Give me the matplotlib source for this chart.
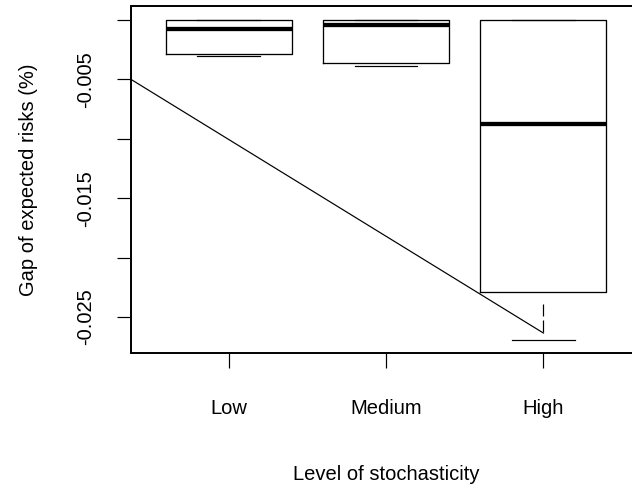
import matplotlib.pyplot as plt
from matplotlib.patches import Rectangle

plt.rcParams['font.family'] = ['Liberation Sans', 'DejaVu Sans']
plt.rcParams['lines.scale_dashes'] = False

# summary stats per stochasticity level
levels = ['Low', 'Medium', 'High']
medians = [-0.00076, -0.00045, -0.00875]
q1 = [-0.00286, -0.0036, -0.0229]
q3 = [0.0, 0.0, 0.0]
whisk_lo = [-0.0030, -0.00387, -0.02694]
whisk_hi = [0.0, 0.0, 0.0]

# straight reference line across the panel
trend_x = [0, 3]
trend_y = [-0.0019, -0.02635]

yticks = [0.0, -0.005, -0.010, -0.015, -0.020, -0.025]
ytick_labels = ['', '-0.005', '', '-0.015', '', '-0.025']

px = 0.72  # one pixel in points at dpi 100

fig = plt.figure(figsize=(6.32, 4.87), dpi=100)
ax = fig.add_axes([131 / 632, 134 / 487, 510 / 632, 347 / 487])

stats = []
for i, lab in enumerate(levels):
    stats.append(dict(label=lab, med=medians[i], q1=q1[i], q3=q3[i],
                      whislo=whisk_lo[i], whishi=whisk_hi[i], fliers=[]))

ax.bxp(stats, positions=[1, 2, 3], widths=0.8, capwidths=0.4,
       showfliers=False, patch_artist=False,
       boxprops=dict(color='black', linewidth=1.3 * px),
       medianprops=dict(color='black', linewidth=4.3 * px, solid_capstyle='butt'),
       whiskerprops=dict(color='black', linewidth=1.2 * px,
                         linestyle=(35.4 * px, (12 * px, 4 * px, 12 * px, 19.4 * px)),
                         dash_capstyle='butt'),
       capprops=dict(color='black', linewidth=1.2 * px))

ax.plot(trend_x, trend_y, color='black', linewidth=1.2 * px)

ax.set_xlim(0.38, 3.62)
ax.set_ylim(-0.02803, 0.00118)

ax.set_xticks([1, 2, 3])
ax.set_xticklabels(levels)
ax.set_yticks(yticks)
ax.set_yticklabels(ytick_labels, rotation=90, va='center')

ax.tick_params(axis='both', direction='out', length=14.5 * px, width=1.2 * px,
               labelsize=14.5, color='black')
ax.tick_params(axis='x', pad=31 * px)
ax.tick_params(axis='y', pad=21 * px)

for sp in ax.spines.values():
    sp.set_linewidth(1.7 * px)
    sp.set_color('black')

# full box around the plot region, like box() in base graphics
ax.add_patch(Rectangle((0, 0), 1, 1, transform=ax.transAxes, fill=False,
                       edgecolor='black', linewidth=1.7 * px, clip_on=False, zorder=5))

ax.set_xlabel('Level of stochasticity', fontsize=14.5, labelpad=48 * px)
ax.set_ylabel('Gap of expected risks (%)', fontsize=14.5, labelpad=38 * px)

fig.savefig('out.png', dpi=100)
